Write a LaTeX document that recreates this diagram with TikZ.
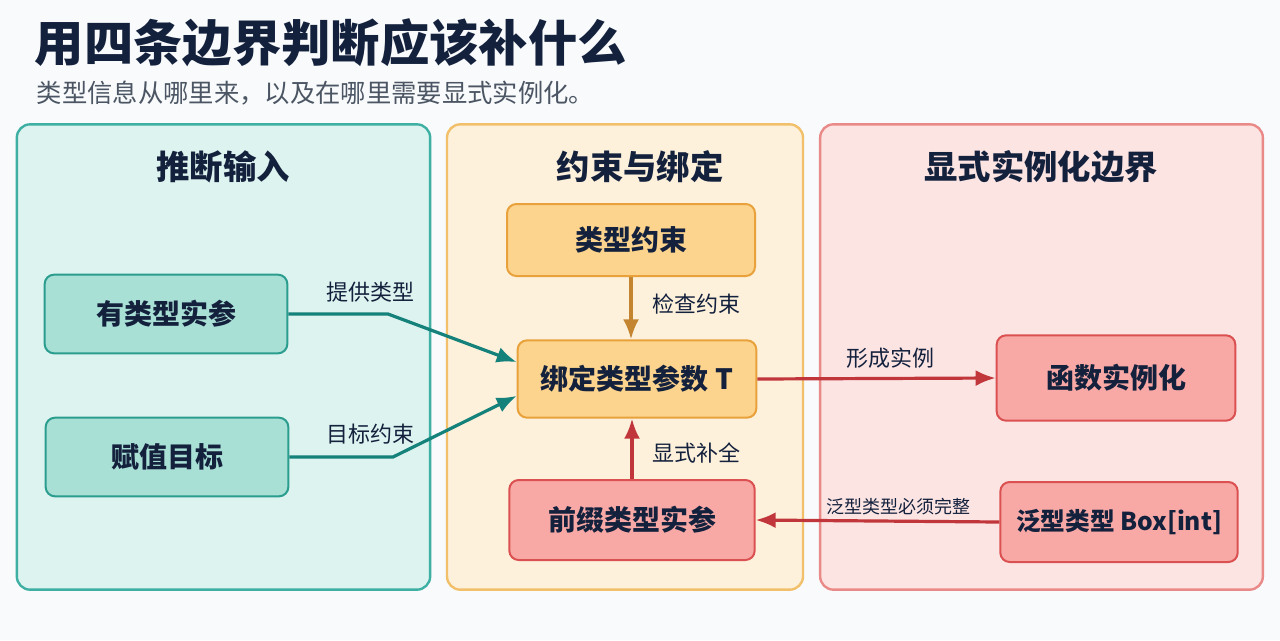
\documentclass[tikz,border=0pt]{standalone}
\usepackage{fontspec}
\setmainfont{Noto Sans CJK SC}
\usepackage{tikz}
\usetikzlibrary{arrows.meta}
\definecolor{ink}{HTML}{14213D}
\definecolor{subink}{HTML}{4B5563}
\definecolor{paper}{HTML}{F8FAFB}
\definecolor{tealpanel}{HTML}{DDF3EF}
\definecolor{tealedge}{HTML}{3DAFA3}
\definecolor{tealbox}{HTML}{A9E0D6}
\definecolor{tealline}{HTML}{2A9D8F}
\definecolor{tealarrow}{HTML}{14817A}
\definecolor{orangepanel}{HTML}{FDF1DC}
\definecolor{orangeedge}{HTML}{F2C06A}
\definecolor{orangebox}{HTML}{FCD48E}
\definecolor{orangeline}{HTML}{E9A13B}
\definecolor{orangearrow}{HTML}{C48530}
\definecolor{redpanel}{HTML}{FCE4E3}
\definecolor{rededge}{HTML}{EA8A88}
\definecolor{redbox}{HTML}{F8A9A6}
\definecolor{redline}{HTML}{DB5050}
\definecolor{redarrow}{HTML}{C0363A}

\begin{document}
\begin{tikzpicture}[x=0.75pt, y=-0.75pt, every node/.style={text=ink}, >={Latex[length=15pt,width=12pt]}]
\useasboundingbox[fill=paper] (0,0) rectangle (1280,640);
% title
\node[anchor=west, font=\bfseries\fontsize{37}{40}\selectfont] (title) at (30,43) {用四条边界判断应该补什么};
\node[anchor=west, text=subink, font=\fontsize{19}{21}\selectfont] (subtitle) at (32,93) {类型信息从哪里来，以及在哪里需要显式实例化。};
% panels
\node[draw=tealedge, line width=1.8pt, fill=tealpanel, rounded corners=10pt, minimum width=310pt, minimum height=349pt] (inpanel) at (223.5,357) {};
\node[draw=orangeedge, line width=1.8pt, fill=orangepanel, rounded corners=10pt, minimum width=267pt, minimum height=349pt] (midpanel) at (625,357) {};
\node[draw=rededge, line width=1.8pt, fill=redpanel, rounded corners=10pt, minimum width=332pt, minimum height=349pt] (outpanel) at (1041.5,357) {};
\node[font=\bfseries\fontsize{25}{28}\selectfont] (intitle) at (223,167) {推断输入};
\node[font=\bfseries\fontsize{25}{28}\selectfont] (midtitle) at (640,167) {约束与绑定};
\node[font=\bfseries\fontsize{25}{28}\selectfont] (outtitle) at (1041,167) {显式实例化边界};
% boxes
\node[draw=tealline, line width=1.5pt, fill=tealbox, rounded corners=7pt, minimum width=182pt, minimum height=59pt, font=\bfseries\fontsize{21}{24}\selectfont] (typed) at (166,314) {有类型实参};
\node[draw=tealline, line width=1.5pt, fill=tealbox, rounded corners=7pt, minimum width=182pt, minimum height=59pt, font=\bfseries\fontsize{21}{24}\selectfont] (target) at (167,457) {赋值目标};
\node[draw=orangeline, line width=1.5pt, fill=orangebox, rounded corners=7pt, minimum width=186pt, minimum height=54pt, font=\bfseries\fontsize{21}{24}\selectfont] (cons) at (631,240) {类型约束};
\node[draw=orangeline, line width=1.5pt, fill=orangebox, rounded corners=7pt, minimum width=179pt, minimum height=58pt, font=\bfseries\fontsize{21}{24}\selectfont] (bind) at (637,379) {绑定类型参数 T};
\node[draw=redline, line width=1.5pt, fill=redbox, rounded corners=7pt, minimum width=184pt, minimum height=60pt, font=\bfseries\fontsize{21}{24}\selectfont] (prefix) at (632,520) {前缀类型实参};
\node[draw=redline, line width=1.5pt, fill=redbox, rounded corners=7pt, minimum width=179pt, minimum height=64pt, font=\bfseries\fontsize{21}{24}\selectfont] (inst) at (1116,378) {函数实例化};
\node[draw=redline, line width=1.5pt, fill=redbox, rounded corners=7pt, minimum width=178pt, minimum height=60pt, font=\bfseries\fontsize{18.5}{21}\selectfont] (boxint) at (1119,522) {泛型类型 Box[int]};
% connectors
\coordinate (k1) at (388,314);
\coordinate (k2) at (393,457);
\draw[->, tealarrow, line width=2.4pt] (typed.east) -- (k1) -- (bind.172);\draw[->, tealarrow, line width=2.4pt] (target.east) -- (k2) -- (bind.188);
\draw[->, orangearrow, line width=2.4pt] (cons.south) -- (cons.south |- bind.north);\draw[->, redarrow, line width=2.4pt] (prefix.north) -- (prefix.north |- bind.south);
\draw[->, redarrow, line width=2.4pt] (bind.east) -- (inst.west);\draw[->, redarrow, line width=2.4pt] (boxint.west) -- (prefix.east);
% labels
\node[font=\fontsize{16.5}{18}\selectfont] (lprov) at (370,292) {提供类型};
\node[font=\fontsize{16.5}{18}\selectfont] (ltarg) at (370,434) {目标约束};
\node[anchor=west, font=\fontsize{16.5}{18}\selectfont] (lcheck) at (648,304) {检查约束};
\node[anchor=west, font=\fontsize{16.5}{18}\selectfont] (lfill) at (648,453) {显式补全};
\node[font=\fontsize{16.5}{18}\selectfont] (lform) at (890,358) {形成实例};
\node[font=\fontsize{13.5}{15}\selectfont] (lwhole) at (898,507) {泛型类型必须完整};
\end{tikzpicture}
\end{document}
